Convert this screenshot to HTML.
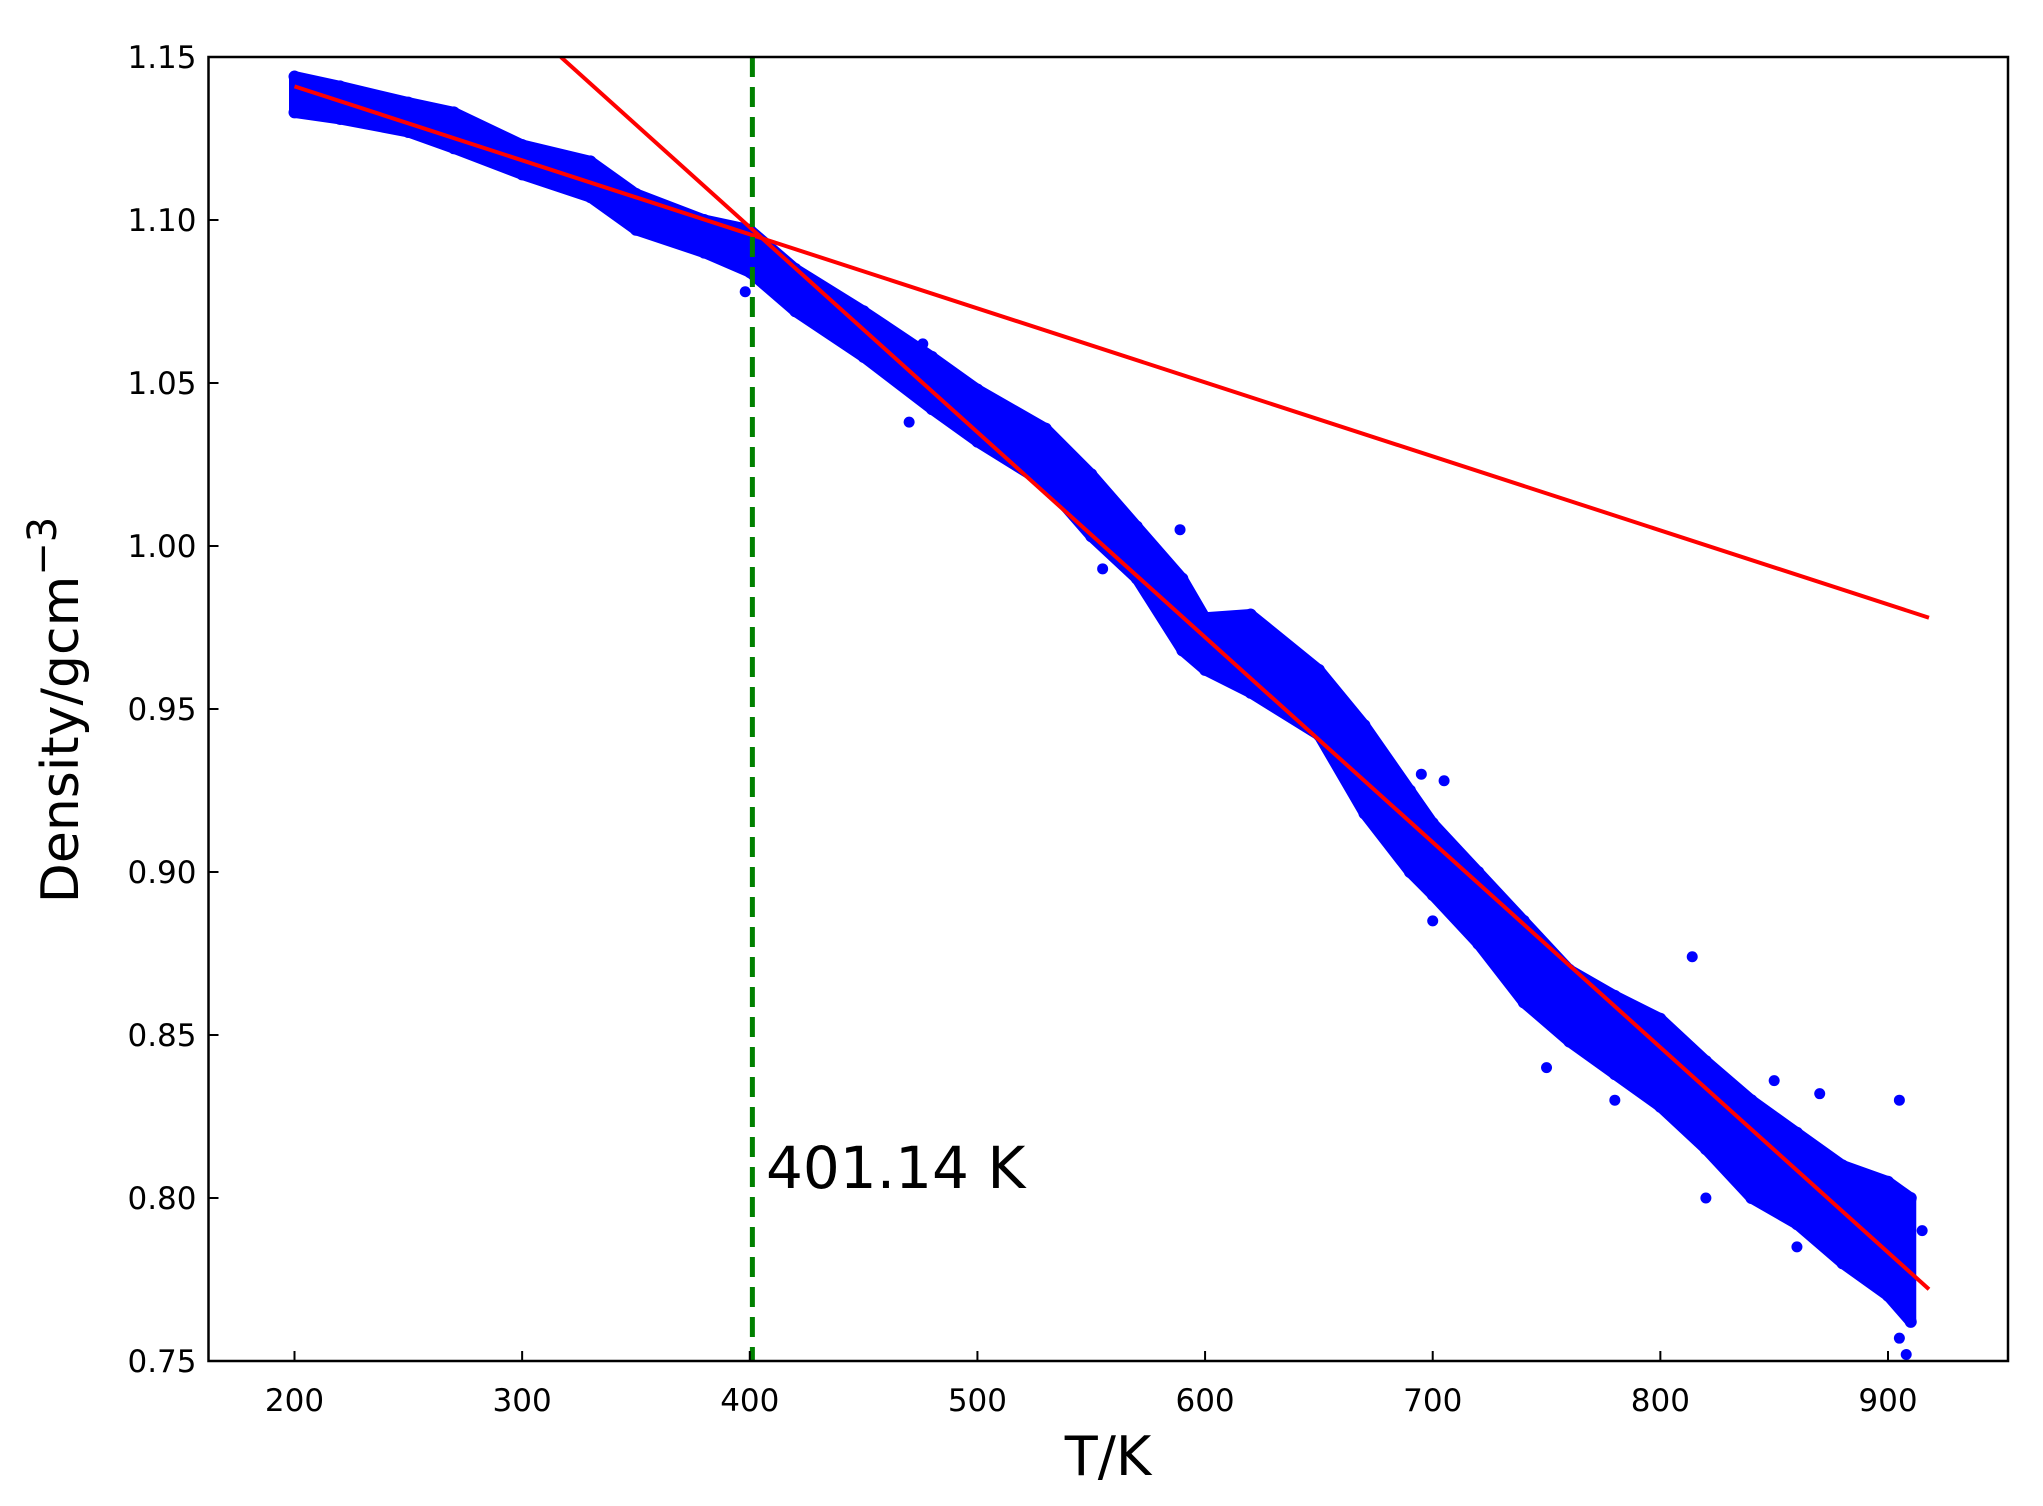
<!DOCTYPE html>
<html><head><meta charset="utf-8"><style>
html,body{margin:0;padding:0;background:#fff;}
svg{display:block;font-family:"DejaVu Sans","Liberation Sans",sans-serif;}
</style></head><body>
<svg id="chart" width="2043" height="1506" viewBox="0 0 2043 1506" xmlns="http://www.w3.org/2000/svg">
<g id="plot"></g>
</svg>
<script>
const xTicks=[200,300,400,500,600,700,800,900];
const yTicks=[0.75,0.80,0.85,0.90,0.95,1.00,1.05,1.10,1.15];
const yTickLabels=["0.75","0.80","0.85","0.90","0.95","1.00","1.05","1.10","1.15"];
const bandT=[200,220,250,270,300,330,350,380,400,420,450,480,500,530,550,570,590,600,620,650,670,690,700,720,740,760,780,800,820,840,860,880,900,910];
const bandUpper=[1.144,1.141,1.136,1.133,1.123,1.118,1.108,1.100,1.097,1.085,1.072,1.058,1.048,1.036,1.022,1.006,0.990,0.978,0.979,0.962,0.945,0.925,0.915,0.900,0.885,0.870,0.862,0.855,0.842,0.830,0.820,0.810,0.805,0.800];
const bandLower=[1.133,1.131,1.127,1.122,1.114,1.107,1.097,1.090,1.084,1.072,1.058,1.042,1.032,1.019,1.003,0.990,0.968,0.962,0.955,0.942,0.918,0.900,0.893,0.878,0.860,0.848,0.838,0.828,0.815,0.800,0.792,0.780,0.770,0.762];
const outT=[398,425,443,476,470,540,555,589,695,705,700,750,780,814,820,850,860,870,905,915,905,908];
const outD=[1.078,1.082,1.072,1.062,1.038,1.015,0.993,1.005,0.930,0.928,0.885,0.840,0.830,0.874,0.800,0.836,0.785,0.832,0.830,0.790,0.757,0.752];
const fit1T=[200,918], fit1D=[1.141,0.978];
const fit2T=[317,918], fit2D=[1.150,0.772];
const transitionT=401.14;

const L=208.5,R=2008,T=57,B=1361;
const xS=v=>294.5+(v-200)*(1888-294.5)/700;
const yS=v=>B-(v-0.75)*(B-T)/0.40;
const NS="http://www.w3.org/2000/svg";
const g=document.getElementById('plot');
function mk(tag,attrs,parent){const e=document.createElementNS(NS,tag);for(const k in attrs)e.setAttribute(k,attrs[k]);(parent||g).appendChild(e);return e;}

let pts=[];
bandT.forEach((t,i)=>pts.push(xS(t)+','+yS(bandUpper[i])));
for(let i=bandT.length-1;i>=0;i--)pts.push(xS(bandT[i])+','+yS(bandLower[i]));
const band=mk('polygon',{points:pts.join(' '),fill:'#0000ff',stroke:'#0000ff','stroke-width':11,'stroke-linejoin':'round'});


bandT.forEach((t,i)=>{
  [bandUpper[i],bandLower[i]].forEach(d=>{
    const c=mk('circle',{cx:xS(t),cy:yS(d),r:6,fill:'#0000ff'});
    
    
  });
});
outT.forEach((t,i)=>{
  const c=mk('circle',{cx:xS(t),cy:yS(outD[i]),r:5.5,fill:'#0000ff'});
  
  
});
const clip=mk('clipPath',{id:'cp'});mk('rect',{x:L,y:T,width:R-L,height:B-T},clip);
[[fit1T,fit1D,'fit-line-low-temp'],[fit2T,fit2D,'fit-line-high-temp']].forEach(([ft,fd,n])=>{
  const l=mk('line',{x1:xS(ft[0]),y1:yS(fd[0]),x2:xS(ft[1]),y2:yS(fd[1]),stroke:'#ff0000','stroke-width':4,'clip-path':'url(#cp)'});
  
  
});
const vl=mk('line',{x1:xS(transitionT),y1:T,x2:xS(transitionT),y2:B,stroke:'#008000','stroke-width':5,'stroke-dasharray':'20 10'});


const tl=mk('text',{x:766,y:1188,'font-size':58,fill:'#000'});tl.textContent=transitionT.toFixed(2)+' K';


const fr=mk('rect',{x:L,y:T,width:R-L,height:B-T,fill:'none',stroke:'#000','stroke-width':2.5});


xTicks.forEach(v=>{
  const t=mk('line',{x1:xS(v),y1:B,x2:xS(v),y2:B-10,stroke:'#000','stroke-width':2});
  
  
  const s=mk('text',{x:xS(v),y:B+50,'font-size':31,'text-anchor':'middle',fill:'#000'});s.textContent=v;
  
  
});
yTicks.forEach((v,i)=>{
  const t=mk('line',{x1:L,y1:yS(v),x2:L+10,y2:yS(v),stroke:'#000','stroke-width':2});
  
  
  const s=mk('text',{x:L-12,y:yS(v)+11,'font-size':31,'text-anchor':'end',fill:'#000'});s.textContent=yTickLabels[i];
  
  
});
const xt=mk('text',{x:1108,y:1475,'font-size':54,'text-anchor':'middle',fill:'#000'});xt.textContent='T/K';


const yt=mk('text',{x:0,y:0,'font-size':52,'text-anchor':'middle',fill:'#000',transform:'translate(78,710) rotate(-90)'});
yt.innerHTML='Density/gcm<tspan dy="-22" font-size="40">−3</tspan>';


</script>
</body></html>
